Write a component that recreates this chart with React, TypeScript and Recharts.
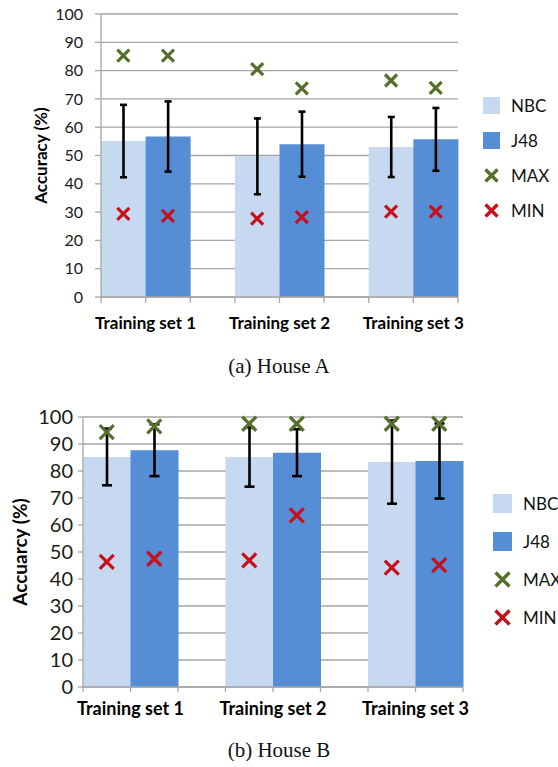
import { Bar, CartesianGrid, Cell, ComposedChart, ErrorBar, Scatter, XAxis, YAxis } from 'recharts'

const categories = ['Training set 1', 'Training set 2', 'Training set 3']
const slotTicks = [0, 1, 2, 3, 4, 5, 6, 7, 8]
const yTicks = [0, 10, 20, 30, 40, 50, 60, 70, 80, 90, 100]

// House A
const aNBC = [55.1, 49.7, 53.0]
const aJ48 = [56.7, 54.0, 55.7]
const aNBCStd = [12.8, 13.4, 10.6]
const aJ48Std = [12.4, 11.5, 11.1]
const aNBCMax = [85.3, 80.5, 76.5]
const aJ48Max = [85.3, 73.7, 73.9]
const aNBCMin = [29.4, 27.7, 30.2]
const aJ48Min = [28.7, 28.2, 30.2]

// House B
const bNBC = [85.2, 85.2, 83.3]
const bJ48 = [87.7, 86.8, 83.7]
const bNBCStd = [10.5, 11.0, 15.4]
const bJ48Std = [9.6, 8.7, 13.9]
const bNBCMax = [94.4, 97.5, 97.5]
const bJ48Max = [96.5, 97.5, 97.5]
const bNBCMin = [46.3, 46.9, 44.2]
const bJ48Min = [47.5, 63.6, 45.1]

const NBC_COLOR = '#c6d9f1'
const J48_COLOR = '#558ed5'
const MAX_COLOR = '#56702c'
const MIN_COLOR = '#c8101a'
const GRID = '#a6a6a6'
const FONT = 'Lato, "DejaVu Sans", sans-serif'

type Row = { x: number; series: 'NBC' | 'J48'; acc: number; err: number; max: number; min: number }

function buildRows(nbc: number[], j48: number[], nbcStd: number[], j48Std: number[], nbcMax: number[], j48Max: number[], nbcMin: number[], j48Min: number[]): Row[] {
  const rows: Row[] = []
  categories.forEach((_, i) => {
    rows.push({ x: i * 3 + 0.5, series: 'NBC', acc: nbc[i], err: nbcStd[i], max: nbcMax[i], min: nbcMin[i] })
    rows.push({ x: i * 3 + 1.5, series: 'J48', acc: j48[i], err: j48Std[i], max: j48Max[i], min: j48Min[i] })
  })
  return rows
}

const rowsA = buildRows(aNBC, aJ48, aNBCStd, aJ48Std, aNBCMax, aJ48Max, aNBCMin, aJ48Min)
const rowsB = buildRows(bNBC, bJ48, bNBCStd, bJ48Std, bNBCMax, bJ48Max, bNBCMin, bJ48Min)

function cross(color: string, s: number, w: number) {
  return (p: any) => (
    <g stroke={color} strokeWidth={w}>
      <line x1={p.cx - s} y1={p.cy - s} x2={p.cx + s} y2={p.cy + s} />
      <line x1={p.cx - s} y1={p.cy + s} x2={p.cx + s} y2={p.cy - s} />
    </g>
  )
}

type Cfg = {
  title: string
  margin: { top: number; right: number; bottom: number; left: number }
  yWidth: number
  yTickSize: number
  yTickMargin: number
  xTickMargin: number
  tickFont: number
  xFont: number
  labelFont: number
  labelX: number
  legendLeft: number
  legendTop: number
  legendGap: number
  legendFont: number
  swatch: number
  mark: number
  capWidth: number
}

function LegendBox({ cfg }: { cfg: Cfg }) {
  const items = [
    { name: 'NBC', kind: 'box', color: NBC_COLOR },
    { name: 'J48', kind: 'box', color: J48_COLOR },
    { name: 'MAX', kind: 'x', color: MAX_COLOR },
    { name: 'MIN', kind: 'x', color: MIN_COLOR },
  ]
  return (
    <div
      style={{
        position: 'absolute',
        left: cfg.legendLeft,
        top: cfg.legendTop,
        fontFamily: FONT,
        fontSize: cfg.legendFont,
        color: '#111',
      }}
    >
      {items.map((it) => (
        <div key={it.name} style={{ display: 'flex', alignItems: 'center', height: cfg.legendGap, whiteSpace: 'nowrap' }}>
          <svg width={cfg.swatch} height={cfg.swatch} style={{ marginRight: 11 }}>
            {it.kind === 'box' ? (
              <rect width={cfg.swatch} height={cfg.swatch} fill={it.color} />
            ) : (
              cross(it.color, cfg.mark, 3.4)({ cx: cfg.swatch / 2, cy: cfg.swatch / 2 })
            )}
          </svg>
          <span>{it.name}</span>
        </div>
      ))}
    </div>
  )
}

function Panel({ rows, cfg }: { rows: Row[]; cfg: Cfg }) {
  return (
    <div style={{ position: 'relative', width: 558, height: 345 }}>
      <ComposedChart width={558} height={345} data={rows} margin={cfg.margin} barCategoryGap={0} barGap={0} style={{ fontFamily: FONT }}>
        <CartesianGrid vertical={false} stroke={GRID} strokeWidth={1.3} />
        <XAxis
          dataKey="x"
          type="number"
          domain={[0, 8]}
          ticks={slotTicks}
          interval={0}
          height={40}
          axisLine={{ stroke: GRID, strokeWidth: 1.3 }}
          tickLine={{ stroke: GRID, strokeWidth: 1.3 }}
          tickSize={cfg.yTickSize}
          tickMargin={cfg.xTickMargin}
          tick={{ fill: '#000', fontSize: cfg.xFont, fontWeight: 700 }}
          tickFormatter={(v: number) => (v % 3 === 1 ? categories[(v - 1) / 3] : '')}
        />
        <YAxis
          domain={[0, 100]}
          ticks={yTicks}
          interval={0}
          width={cfg.yWidth}
          axisLine={{ stroke: GRID, strokeWidth: 1.3 }}
          tickLine={{ stroke: GRID, strokeWidth: 1.3 }}
          tickSize={cfg.yTickSize}
          tickMargin={cfg.yTickMargin}
          tick={{ fill: '#1a1a1a', fontSize: cfg.tickFont }}
          label={{
            content: (p: any) => {
              const vb = p.viewBox
              const cy = vb.y + vb.height / 2
              return (
                <text
                  x={cfg.labelX}
                  y={cy}
                  transform={`rotate(-90, ${cfg.labelX}, ${cy})`}
                  textAnchor="middle"
                  dominantBaseline="central"
                  fontSize={cfg.labelFont}
                  fontWeight={700}
                  fill="#000"
                >
                  {cfg.title}
                </text>
              )
            },
          }}
        />
        <Bar dataKey="acc" isAnimationActive={false}>
          {rows.map((r) => (
            <Cell key={r.x} fill={r.series === 'NBC' ? NBC_COLOR : J48_COLOR} />
          ))}
          <ErrorBar dataKey="err" direction="y" width={cfg.capWidth} stroke="#000" strokeWidth={2.6} />
        </Bar>
        <Scatter dataKey="max" isAnimationActive={false} shape={cross(MAX_COLOR, cfg.mark, 3.2)} />
        <Scatter dataKey="min" isAnimationActive={false} shape={cross(MIN_COLOR, cfg.mark, 3.2)} />
      </ComposedChart>
      <LegendBox cfg={cfg} />
    </div>
  )
}

const cfgA: Cfg = {
  title: 'Accuracy (%)',
  margin: { top: 14, right: 100, bottom: 8, left: 41 },
  yWidth: 60,
  yTickSize: 6,
  yTickMargin: 12,
  xTickMargin: 14,
  tickFont: 16,
  xFont: 17,
  labelFont: 17,
  labelX: 40,
  legendLeft: 483,
  legendTop: 88,
  legendGap: 35,
  legendFont: 17,
  swatch: 17,
  mark: 6,
  capWidth: 3.5,
}

const cfgB: Cfg = {
  title: 'Accuarcy (%)',
  margin: { top: 27, right: 95, bottom: 8, left: 28 },
  yWidth: 55,
  yTickSize: 5,
  yTickMargin: 5,
  xTickMargin: 10,
  tickFont: 20,
  xFont: 18,
  labelFont: 19,
  labelX: 19,
  legendLeft: 493,
  legendTop: 94,
  legendGap: 38,
  legendFont: 17,
  swatch: 19,
  mark: 7,
  capWidth: 5,
}

const caption: React.CSSProperties = {
  position: 'absolute',
  left: 0,
  width: 558,
  textAlign: 'center',
  fontFamily: '"Liberation Serif", "Times New Roman", serif',
  fontSize: 21,
  color: '#111',
}

export default function App() {
  return (
    <div style={{ position: 'absolute', top: 0, left: 0, width: 558, height: 767, background: '#fff', overflow: 'hidden' }}>
      <div style={{ position: 'absolute', top: 0, left: 0 }}>
        <Panel rows={rowsA} cfg={cfgA} />
      </div>
      <div style={{ ...caption, top: 354 }}>(a) House A</div>
      <div style={{ position: 'absolute', top: 390, left: 0 }}>
        <Panel rows={rowsB} cfg={cfgB} />
      </div>
      <div style={{ ...caption, top: 738 }}>(b) House B</div>
    </div>
  )
}
